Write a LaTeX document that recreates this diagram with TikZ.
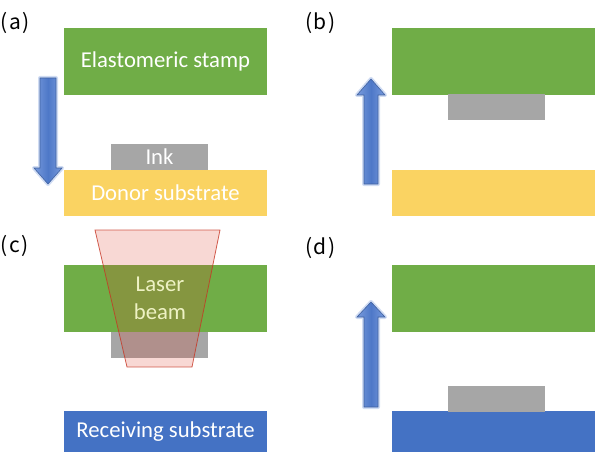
\documentclass[tikz,border=0pt]{standalone}
\usepackage{fontspec}
\setmainfont{Carlito}
\newfontfamily\panelfont{Noto Sans CJK JP}
\usepackage{tikz}
\usetikzlibrary{calc}
\definecolor{stampgreen}{RGB}{112, 173, 71}
\definecolor{donorgold}{RGB}{250, 211, 98}
\definecolor{recvblue}{RGB}{68, 114, 196}
\definecolor{inkgray}{RGB}{166, 166, 166}
\definecolor{arrowblue}{RGB}{78, 120, 200}
\definecolor{arrowlight}{RGB}{120, 155, 220}
\definecolor{laserred}{RGB}{220, 60, 40}
\definecolor{beamtext}{RGB}{238, 242, 196}

\tikzset{
  layer/.style   = {inner sep=0pt, outer sep=0pt, text=white, font=\fontsize{22.7}{28}\selectfont, align=center},
  stamp/.style   = {layer, fill=stampgreen, minimum width=203pt, minimum height=67pt},
  donor/.style   = {layer, fill=donorgold,  minimum width=203pt, minimum height=46pt},
  recv/.style    = {layer, fill=recvblue,   minimum width=203pt, minimum height=41pt},
  ink/.style     = {layer, fill=inkgray,    minimum width=97pt,  minimum height=26pt},
  panel/.style   = {inner sep=0pt, anchor=west, font=\panelfont\fontsize{21}{24}\selectfont},
  lift/.style    = {left color=arrowlight, right color=arrowlight, middle color=arrowblue, draw=arrowblue!80!black, line width=0.6pt},
  glow/.style    = {draw=arrowlight!35, line width=4pt, line join=round},
}

\begin{document}
\begin{tikzpicture}[x=1pt, y=-1pt]
    \useasboundingbox (0,0) rectangle (595,460);

    % (a) stamp comes down onto the inked donor
    \node[panel] (labA) at (0.5, 23) {(\kern1.5pt a\kern1.5pt)};
    \node[stamp] (stampA) at (165.5, 61.5) {Elastomeric stamp};
    \node[donor] (donorA) at (165.5,193.0) {Donor substrate};
    \node[ink]   (inkA)   at (159.5,157.0) {Ink};
    \draw[glow] (40,78) -- (56,78) -- (56,168) -- (62,168) -- (48,184) -- (34,168) -- (40,168) -- cycle;
    \shade[lift] (40,78) -- (56,78) -- (56,168) -- (62,168) -- (48,184) -- (34,168) -- (40,168) -- cycle;

    % (b) stamp lifted with the ink
    \node[panel] (labB) at (305, 23) {(\kern1.5pt b\kern1.5pt)};
    \node[stamp] (stampB) at (493.0, 61.5) {};
    \node[donor] (donorB) at (493.0,193.0) {};
    \node[ink]   (inkB)   at (496.5,107.5) {};
    \draw[glow] (364,184) -- (378,184) -- (378,95) -- (385,95) -- (371,79) -- (357,95) -- (364,95) -- cycle;
    \shade[lift] (364,184) -- (378,184) -- (378,95) -- (385,95) -- (371,79) -- (357,95) -- (364,95) -- cycle;

    % (c) laser release
    \node[panel] (labC) at (0.5,246) {(\kern1.5pt c\kern1.5pt)};
    \node[stamp] (stampC) at (165.5,298.5) {};
    \node[ink]   (inkC)   at (159.5,345.0) {};
    \node[recv]  (recvC)  at (165.5,431.5) {Receiving substrate};
    \filldraw[fill=laserred, fill opacity=0.2, draw=laserred!90!black, draw opacity=0.8, line width=0.8pt]
        (95,230) -- (220,230) -- (192,367) -- (127,367) -- cycle;
    \node[layer, text=beamtext] (laser) at (160.0,298.0) {Laser\\beam};

    % (d) stamp lifted, ink left on receiver
    \node[panel] (labD) at (305,248) {(\kern1.5pt d\kern1.5pt)};
    \node[stamp] (stampD) at (493.0,298.5) {};
    \node[recv]  (recvD)  at (493.0,431.5) {};
    \node[ink]   (inkD)   at (496.5,398.5) {};
    \draw[glow] (364,407) -- (378,407) -- (378,317) -- (385,317) -- (371,302) -- (357,317) -- (364,317) -- cycle;
    \shade[lift] (364,407) -- (378,407) -- (378,317) -- (385,317) -- (371,302) -- (357,317) -- (364,317) -- cycle;
\end{tikzpicture}
\end{document}
